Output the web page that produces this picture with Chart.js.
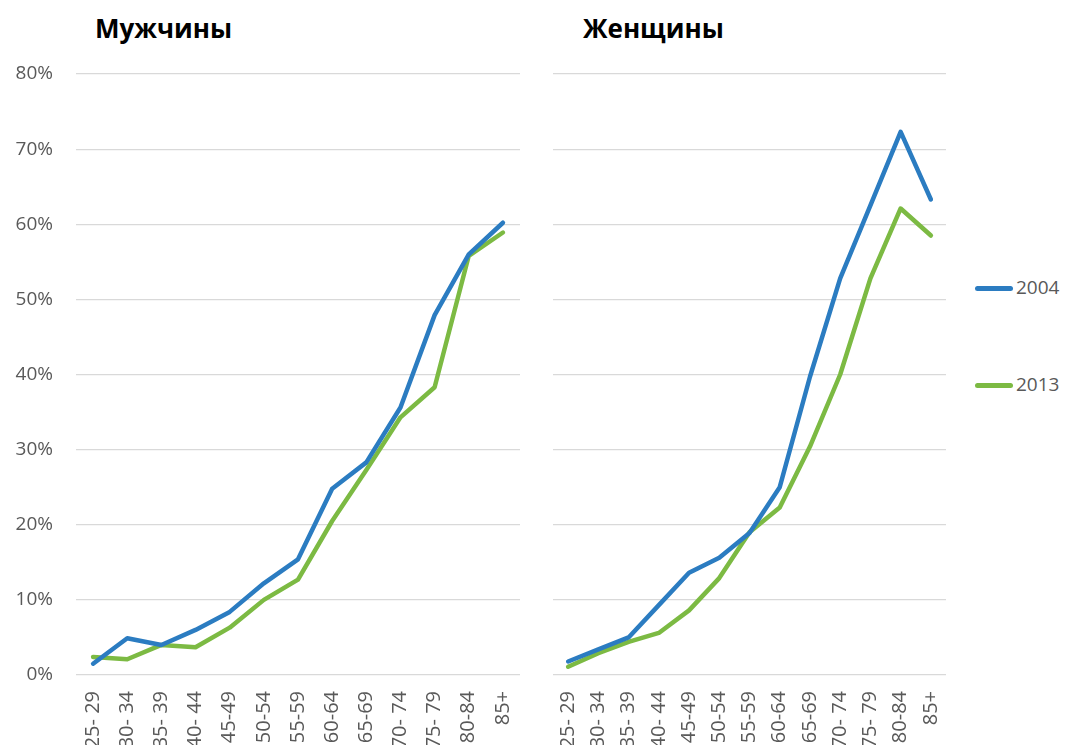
<!DOCTYPE html>
<html>
<head>
<meta charset="utf-8">
<script src="https://cdn.jsdelivr.net/npm/chart.js@4.4.0/dist/chart.umd.min.js"></script>
<style>
  html, body { margin: 0; padding: 0; background: #fff; overflow: hidden; }
  body { width: 1081px; height: 745px; position: relative; font-family: "Open Sans", sans-serif; }
  .box { position: absolute; top: 0; height: 745px; }
  .ttl { position: absolute; top: 10px; font-weight: bold; font-size: 26px; color: #000; }
  .leg { position: absolute; left: 975px; font-size: 19px; color: #595959; height: 24px; line-height: 24px; }
  .leg span.ln { display: inline-block; width: 38px; height: 5px; border-radius: 3px; vertical-align: middle; margin-right: 3px; }
</style>
</head>
<body>
<div class="ttl" style="left:95px">Мужчины</div>
<div class="ttl" style="left:583px">Женщины</div>
<div class="box" style="left:0;width:520px"><canvas id="chartMen"></canvas></div>
<div class="box" style="left:553px;width:393px"><canvas id="chartWomen"></canvas></div>
<div class="leg" style="top:275px"><span class="ln" style="background:#2b7cc1"></span>2004</div>
<div class="leg" style="top:372px"><span class="ln" style="background:#7cba43"></span>2013</div>
<script>
// age groups
const ages = ['25- 29', '30- 34', '35- 39', '40- 44', '45-49', '50-54', '55-59',
              '60-64', '65-69', '70- 74', '75- 79', '80-84', '85+'];
const yTicks = [0, 10, 20, 30, 40, 50, 60, 70, 80];

// shares, percent
const men2004 = [1.5, 4.9, 4.0, 6.0, 8.4, 12.2, 15.4, 24.8, 28.3, 35.6, 47.9, 56.0, 60.2];
const men2013 = [2.4, 2.1, 4.0, 3.7, 6.3, 10.0, 12.7, 20.5, 27.3, 34.3, 38.3, 55.8, 58.9];
const women2004 = [1.8, 3.4, 5.0, 9.3, 13.6, 15.6, 18.9, 25.0, 39.7, 52.8, 62.5, 72.3, 63.3];
const women2013 = [1.1, 2.9, 4.4, 5.6, 8.6, 12.9, 19.0, 22.3, 30.4, 40.0, 52.8, 62.1, 58.5];

const blue = '#2b7cc1';
const green = '#7cba43';
const grey = '#595959';

function lineSet(label, data, color) {
  return {
    label: label,
    data: data,
    borderColor: color,
    backgroundColor: color,
    borderWidth: 4.5,
    pointRadius: 0,
    tension: 0,
    borderJoinStyle: 'round',
    borderCapStyle: 'round'
  };
}

function makeChart(id, d2004, d2013, showY) {
  return new Chart(document.getElementById(id), {
    type: 'line',
    data: {
      labels: ages,
      datasets: [lineSet('2004', d2004, blue), lineSet('2013', d2013, green)]
    },
    options: {
      responsive: true,
      maintainAspectRatio: false,
      animation: false,
      layout: { padding: { top: 74, left: 0, right: 0, bottom: 0 } },
      plugins: { legend: { display: false }, tooltip: { enabled: false } },
      scales: {
        x: {
          offset: true,
          grid: { display: false },
          border: { display: false },
          ticks: {
            color: grey,
            font: { family: 'Open Sans', size: 20 },
            minRotation: 90,
            maxRotation: 90,
            autoSkip: false,
            padding: 8
          },
          afterFit: function(scale) {
            scale.height = 70;
            scale.paddingLeft = 0;
            scale.paddingRight = 0;
          }
        },
        y: {
          min: 0,
          max: 80,
          afterBuildTicks: function(scale) { scale.ticks = yTicks.map(v => ({ value: v })); },
          grid: { color: '#d9d9d9', lineWidth: 1.2, drawTicks: false },
          border: { display: false },
          ticks: {
            display: showY,
            color: grey,
            font: { family: 'Open Sans', size: 19 },
            padding: 23,
            callback: v => v + '%'
          },
          afterFit: function(scale) { scale.width = showY ? 76 : 0; }
        }
      }
    }
  });
}

makeChart('chartMen', men2004, men2013, true);
makeChart('chartWomen', women2004, women2013, false);
</script>
</body>
</html>
